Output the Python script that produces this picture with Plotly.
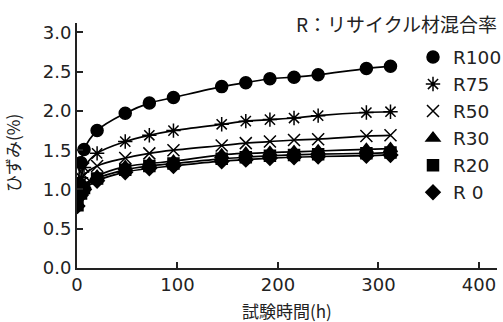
import plotly.graph_objects as go

hours = [0.5, 4, 7, 20, 48, 72, 96, 144, 168, 192, 216, 240, 288, 312]
r100 = [1.07, 1.34, 1.51, 1.75, 1.97, 2.10, 2.17, 2.31, 2.36, 2.41, 2.43, 2.46, 2.54, 2.57]
r75 = [1.00, 1.15, 1.28, 1.46, 1.61, 1.69, 1.75, 1.83, 1.87, 1.89, 1.91, 1.94, 1.98, 1.99]
r50 = [0.95, 1.08, 1.18, 1.30, 1.40, 1.46, 1.50, 1.56, 1.59, 1.61, 1.63, 1.64, 1.68, 1.69]
r30 = [0.82, 0.98, 1.05, 1.17, 1.29, 1.33, 1.36, 1.44, 1.46, 1.47, 1.48, 1.49, 1.51, 1.52]
r20 = [0.80, 0.95, 1.02, 1.14, 1.25, 1.30, 1.33, 1.39, 1.41, 1.43, 1.44, 1.45, 1.46, 1.47]
r0 = [0.79, 0.93, 1.00, 1.11, 1.22, 1.27, 1.30, 1.36, 1.38, 1.40, 1.41, 1.42, 1.43, 1.44]

series_names = ["R100", "R75", "R50", "R30", "R20", "R 0"]
series_values = [r100, r75, r50, r30, r20, r0]
symbols = ["circle", "asterisk-open", "x-thin-open", "triangle-up", "square", "diamond"]
sizes = [12, 12, 12, 12, 11, 11]

x_ticks = [0, 100, 200, 300, 400]
y_ticks = [0.0, 0.5, 1.0, 1.5, 2.0, 2.5, 3.0]

TXT = "#222222"
JP = "Noto Sans CJK JP"

fig = go.Figure()

# fitted curves (no legend)
for name, vals in zip(series_names, series_values):
    fig.add_trace(go.Scatter(
        x=hours, y=vals, mode="lines", showlegend=False,
        line=dict(color="black", width=1.7, shape="spline", smoothing=1.0),
        hoverinfo="skip"))

# markers (in legend)
for name, vals, sym, sz in zip(series_names, series_values, symbols, sizes):
    fig.add_trace(go.Scatter(
        x=hours, y=vals, mode="markers", name=name,
        marker=dict(symbol=sym, size=sz, color="black",
                    line=dict(color="black", width=1.5))))

fig.update_layout(
    width=503, height=322,
    margin=dict(l=77, r=6, t=23, b=54, autoexpand=False),
    paper_bgcolor="white", plot_bgcolor="white",
    font=dict(family="DejaVu Sans", color=TXT),
    showlegend=True,
    legend=dict(
        x=0.80, y=0.937, xanchor="left", yanchor="top",
        bgcolor="rgba(0,0,0,0)", font=dict(family="DejaVu Sans", size=18.5, color=TXT),
        itemwidth=30,
    ),
    xaxis=dict(
        range=[0, 418], tickvals=x_ticks, ticktext=[str(v) for v in x_ticks],
        ticks="inside", ticklen=6, tickwidth=1.5, tickcolor="#222",
        showline=True, linecolor="#222", linewidth=1.5,
        showgrid=False, zeroline=False, automargin=False,
        tickfont=dict(family="DejaVu Sans", size=18, color=TXT),
    ),
    yaxis=dict(
        range=[0, 3.12], tickvals=y_ticks, ticktext=[f"{v:.1f}" for v in y_ticks],
        ticks="inside", ticklen=6, tickwidth=1.5, tickcolor="#222",
        showline=True, linecolor="#222", linewidth=2,
        showgrid=False, zeroline=False, automargin=False,
        tickfont=dict(family="DejaVu Sans", size=18, color=TXT),
    ),
    annotations=[
        dict(text="R：リサイクル材混合率", xref="paper", yref="paper",
             x=1.005, y=1.0, xanchor="right", yanchor="middle", showarrow=False,
             font=dict(family=JP, size=19, color=TXT)),
        dict(text="試験時間(h)", xref="paper", yref="paper",
             x=0.5, y=-0.175, xanchor="center", yanchor="middle", showarrow=False,
             font=dict(family=JP, size=17, color=TXT)),
        dict(text="ひずみ(%)", xref="paper", yref="paper", textangle=-90,
             x=-0.152, y=0.47, xanchor="center", yanchor="middle", showarrow=False,
             font=dict(family=JP, size=17, color=TXT)),
    ],
)

fig.write_html("out.html", config={"displayModeBar": False},
               post_script="document.body.style.margin='0px';document.body.style.overflow='hidden';")
